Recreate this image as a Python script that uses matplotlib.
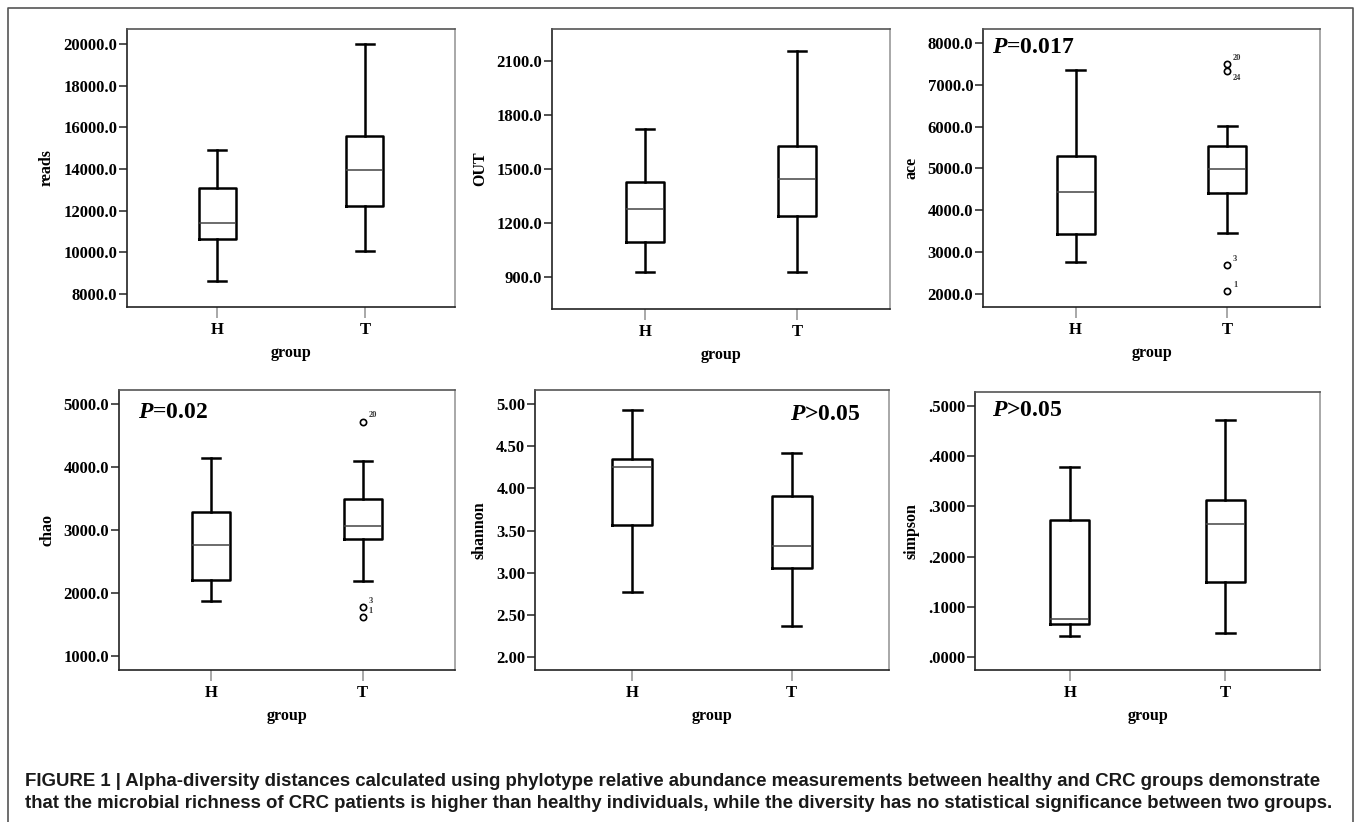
import matplotlib
matplotlib.use("Agg")
import matplotlib.pyplot as plt
from matplotlib.lines import Line2D

plt.rcParams['font.family'] = ['Liberation Serif', 'DejaVu Serif']
plt.rcParams['mathtext.fontset'] = 'custom'
plt.rcParams['mathtext.it'] = 'Liberation Serif:italic:bold'
plt.rcParams['mathtext.rm'] = 'Liberation Serif:bold'

groups = ["H", "T"]

# whisker low, Q1, median, Q3, whisker high
reads_H = [8640, 10640, 11410, 13070, 14920]
reads_T = [10060, 12220, 13930, 15580, 19980]
out_H = [931, 1097, 1279, 1432, 1724]
out_T = [928, 1241, 1446, 1631, 2160]
ace_H = [2749, 3428, 4441, 5303, 7361]
ace_T = [3453, 4410, 4984, 5542, 6021]
chao_H = [1882, 2210, 2770, 3288, 4149]
chao_T = [2189, 2855, 3071, 3499, 4092]
shannon_H = [2.77, 3.56, 4.26, 4.35, 4.93]
shannon_T = [2.36, 3.05, 3.32, 3.91, 4.42]
simpson_H = [0.041, 0.065, 0.075, 0.272, 0.379]
simpson_T = [0.047, 0.149, 0.265, 0.312, 0.473]

# outliers of group T: (value, case label)
ace_out = [(7505, "20"), (7337, "24"), (2694, "3"), (2055, "1")]
chao_out = [(4720, "20"), (1787, "3"), (1618, "1")]

reads_ticks = [8000, 10000, 12000, 14000, 16000, 18000, 20000]
out_ticks = [900, 1200, 1500, 1800, 2100]
ace_ticks = [2000, 3000, 4000, 5000, 6000, 7000, 8000]
chao_ticks = [1000, 2000, 3000, 4000, 5000]
shannon_ticks = [2.0, 2.5, 3.0, 3.5, 4.0, 4.5, 5.0]
simpson_ticks = [0.0, 0.1, 0.2, 0.3, 0.4, 0.5]

W, H = 1355, 822
fig = plt.figure(figsize=(W / 100, H / 100), dpi=100)


def add_ax(l, r, t, b):
    return fig.add_axes([l / W, 1 - b / H, (r - l) / W, (b - t) / H])


def stats(v, fl=()):
    return dict(whislo=v[0], q1=v[1], med=v[2], q3=v[3], whishi=v[4], fliers=list(fl))


def panel(ax, hv, tv, ylabel, ticks, ylim, fmt, tout=None):
    st = [stats(hv), stats(tv, [o[0] for o in tout] if tout else [])]
    ax.bxp(st, positions=[1, 2], widths=0.25, capwidths=0.12,
           boxprops=dict(color='black', lw=1.8),
           whiskerprops=dict(color='black', lw=1.8),
           capprops=dict(color='black', lw=1.8),
           medianprops=dict(color='#444444', lw=1.1),
           flierprops=dict(marker='o', markersize=4.5, markerfacecolor='white',
                           markeredgecolor='black', markeredgewidth=1.2))
    if tout:
        for val, lab in tout:
            dy = 3 if lab != "24" else -7
            ax.annotate(lab, (2, val), xytext=(4, dy), textcoords='offset points',
                        fontsize=6, fontweight='bold', color='#333333')
    ax.set_xlim(0.39, 2.61)
    ax.set_ylim(*ylim)
    ax.set_xticks([1, 2])
    ax.set_xticklabels(groups, fontsize=12, fontweight='bold')
    ax.set_yticks(ticks)
    ax.set_yticklabels([fmt(t) for t in ticks], fontsize=12, fontweight='bold')
    ax.set_ylabel(ylabel, fontsize=11.5, fontweight='bold', labelpad=6)
    ax.set_xlabel("group", fontsize=11.5, fontweight='bold', labelpad=5)
    ax.tick_params(axis='y', length=6, width=1.2, color='#333333', pad=1)
    ax.tick_params(axis='x', length=8, width=1.2, color='#999999', pad=3)
    ax.spines['left'].set_color('#222222')
    ax.spines['bottom'].set_color('#222222')
    ax.spines['top'].set_color('#555555')
    ax.spines['right'].set_color('#999999')
    for s in ax.spines.values():
        s.set_linewidth(1.2)


ax1 = add_ax(127, 455, 29, 307)
panel(ax1, reads_H, reads_T, "reads", reads_ticks, (7376, 20720), lambda t: f"{t:.1f}")

ax2 = add_ax(552, 890, 29, 309)
panel(ax2, out_H, out_T, "OUT", out_ticks, (724, 2280), lambda t: f"{t:.1f}")

ax3 = add_ax(983, 1320, 29, 307)
panel(ax3, ace_H, ace_T, "ace", ace_ticks, (1682, 8335), lambda t: f"{t:.1f}", ace_out)
ax3.text(0.027, 0.935, r"$P$=0.017", transform=ax3.transAxes, fontsize=17,
         fontweight='bold', va='center', ha='left')

ax4 = add_ax(119, 455, 390, 670)
panel(ax4, chao_H, chao_T, "chao", chao_ticks, (783, 5222), lambda t: f"{t:.1f}", chao_out)
ax4.text(0.057, 0.919, r"$P$=0.02", transform=ax4.transAxes, fontsize=17,
         fontweight='bold', va='center', ha='left')

ax5 = add_ax(535, 889, 390, 670)
panel(ax5, shannon_H, shannon_T, "shannon", shannon_ticks, (1.842, 5.17), lambda t: f"{t:.2f}")
ax5.text(0.918, 0.911, r"$P$>0.05", transform=ax5.transAxes, fontsize=17,
         fontweight='bold', va='center', ha='right')

ax6 = add_ax(975, 1320, 392, 670)
panel(ax6, simpson_H, simpson_T, "simpson", simpson_ticks, (-0.0267, 0.5286),
      lambda t: f"{t:.4f}"[1:])
ax6.text(0.049, 0.933, r"$P$>0.05", transform=ax6.transAxes, fontsize=17,
         fontweight='bold', va='center', ha='left')

# outer frame (open at bottom)
fx = [8 / W, 8 / W, 1353 / W, 1353 / W]
fy = [0, 1 - 8 / H, 1 - 8 / H, 0]
fig.add_artist(Line2D(fx, fy, transform=fig.transFigure, color='#555555', lw=1.2))

cap1 = ("FIGURE 1 | Alpha-diversity distances calculated using phylotype relative abundance "
        "measurements between healthy and CRC groups demonstrate")
cap2 = ("that the microbial richness of CRC patients is higher than healthy individuals, "
        "while the diversity has no statistical significance between two groups.")
fig.text(25 / W, 1 - 786 / H, cap1, fontsize=13.4, fontweight='bold', color='#1a1a1a',
         family=['Liberation Sans', 'DejaVu Sans'], va='baseline')
fig.text(25 / W, 1 - 808 / H, cap2, fontsize=13.4, fontweight='bold', color='#1a1a1a',
         family=['Liberation Sans', 'DejaVu Sans'], va='baseline')

fig.savefig("out.png", dpi=100)
